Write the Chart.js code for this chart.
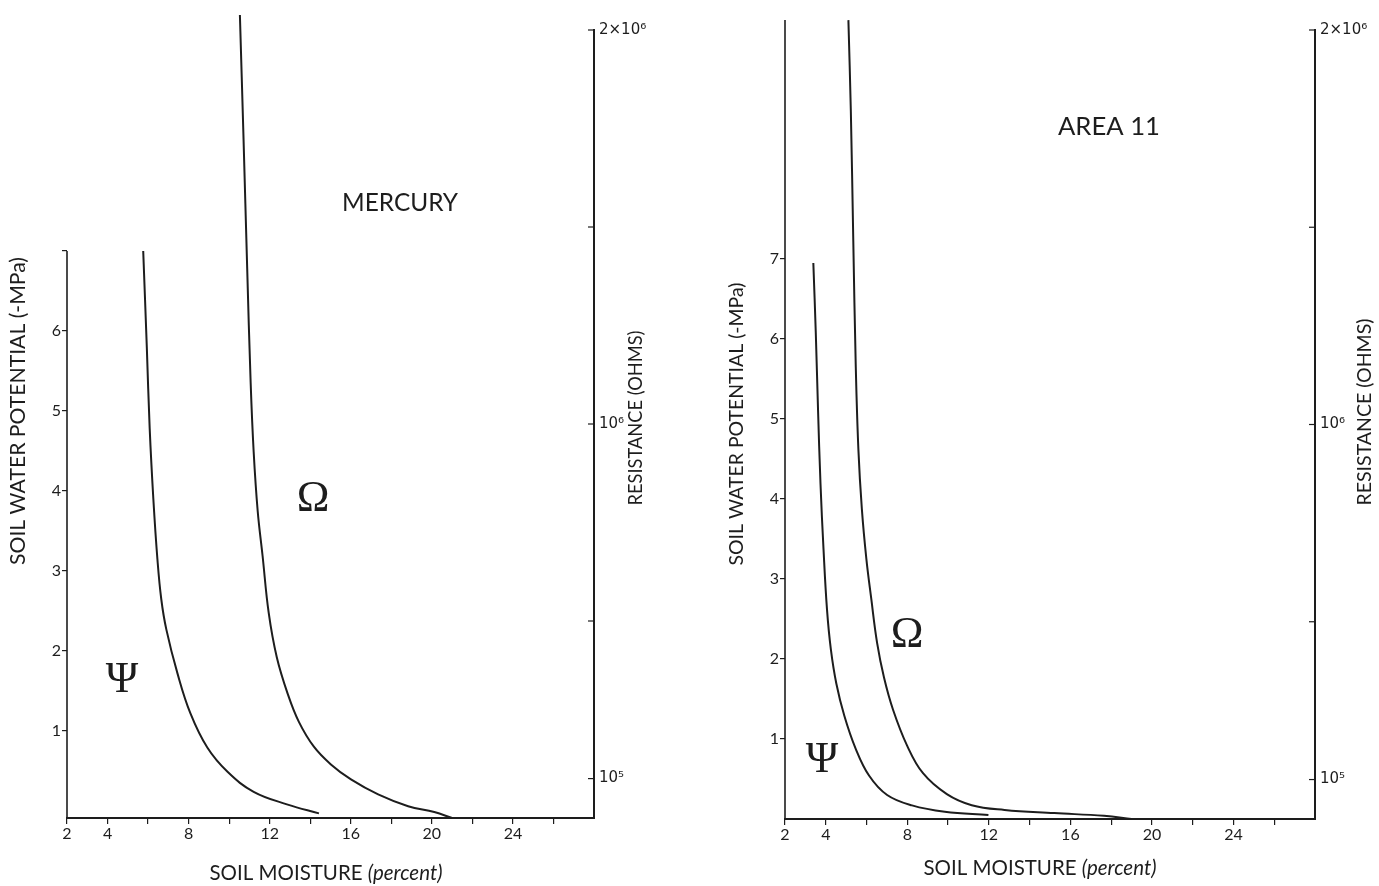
<!DOCTYPE html>
<html>
<head>
<meta charset="utf-8">
<script src="https://cdn.jsdelivr.net/npm/chart.js@4.4.1/dist/chart.umd.min.js"></script>
<style>
  body { margin: 0; background: #fff; }
  canvas { position: absolute; top: 0; }
  #mercury { left: 0; }
  #area11 { left: 690px; }
</style>
</head>
<body>
<canvas id="mercury" width="690" height="886"></canvas>
<canvas id="area11" width="689" height="886"></canvas>
<script>
// Soil moisture axis (percent)
const moistureTicks = [2, 4, 6, 8, 10, 12, 14, 16, 18, 20, 22, 24, 26];
const moistureLabelled = [2, 4, 8, 12, 16, 20, 24];

// Soil water potential axis (-MPa)
const potentialTicks = [1, 2, 3, 4, 5, 6, 7];
const mercuryPotentialLabels = ['1', '2', '3', '4', '5', '6', ''];
const areaPotentialLabels = ['1', '2', '3', '4', '5', '6', '7'];

// Resistance axis (ohms)
const resistanceTicks = [100000, 500000, 1000000, 1500000, 2000000];
const resistanceLabels = ['10⁵', '', '10⁶', '', '2×10⁶'];

// MERCURY: potential curve (Psi)
const mercuryPsiMoisture = [5.76, 5.94, 6.08, 6.26, 6.46, 6.65, 6.90, 7.45, 8.09, 8.93, 9.92, 11.21, 12.89, 14.43];
const mercuryPsi = [7.00, 5.78, 4.78, 3.90, 3.15, 2.65, 2.27, 1.72, 1.22, 0.79, 0.49, 0.24, 0.08, -0.03];
// MERCURY: resistance curve (Omega)
const mercuryOhmMoisture = [10.53, 10.71, 10.89, 11.06, 11.21, 11.41, 11.65, 11.95, 12.35, 12.89, 13.44, 14.18, 15.02, 16.01, 17.35, 18.83, 20.12, 21.0];
const mercuryOhm = [2038000, 1723000, 1395000, 1106000, 929000, 778000, 665000, 521000, 408000, 315000, 244000, 181000, 136000, 98000, 60000, 30000, 15000, 0];

// AREA 11: potential curve (Psi)
const areaPsiMoisture = [3.39, 3.51, 3.62, 3.74, 3.89, 4.06, 4.25, 4.52, 4.91, 5.45, 6.13, 7.01, 8.23, 9.84, 11.98];
const areaPsi = [6.95, 6.08, 5.12, 4.20, 3.37, 2.62, 2.12, 1.69, 1.29, 0.89, 0.54, 0.30, 0.17, 0.09, 0.05];
// AREA 11: resistance curve (Omega)
const areaOhmMoisture = [5.11, 5.23, 5.35, 5.47, 5.60, 5.77, 5.99, 6.23, 6.52, 6.86, 7.30, 7.99, 8.77, 9.94, 11.16, 12.77, 15.21, 17.65, 19.0];
const areaOhm = [2025000, 1794000, 1466000, 1151000, 937000, 786000, 660000, 559000, 446000, 358000, 277000, 186000, 116000, 63000, 35000, 23000, 15000, 8000, 0];

const ink = '#1d1d1d';
const family = 'Lato, "DejaVu Sans", sans-serif';

function toPoints(xs, ys) {
  return xs.map((x, i) => ({ x: x, y: ys[i] }));
}

// font size that makes the text span the wanted length
function fitSize(ctx, parts, len) {
  let w = 0;
  parts.forEach(p => {
    ctx.font = (p.italic ? 'italic ' : '') + '20px ' + family;
    w += ctx.measureText(p.text).width;
  });
  return 20 * len / w;
}

function drawParts(ctx, parts, cx, cy, len, angle) {
  const size = fitSize(ctx, parts, len);
  ctx.save();
  ctx.translate(cx, cy);
  ctx.rotate(angle || 0);
  ctx.textBaseline = 'middle';
  ctx.textAlign = 'left';
  ctx.fillStyle = ink;
  let x = -len / 2;
  parts.forEach(p => {
    ctx.font = (p.italic ? 'italic ' : '') + size.toFixed(2) + 'px ' + family;
    ctx.fillText(p.text, x, 0);
    x += ctx.measureText(p.text).width;
  });
  ctx.restore();
}

const panelText = {
  id: 'panelText',
  afterDraw(chart, args, o) {
    const { ctx, chartArea, scales } = chart;
    ctx.save();
    ctx.strokeStyle = ink;
    ctx.lineWidth = 1.6;
    // potential axis line
    const top = o.leftAxisTop != null ? scales.y.getPixelForValue(o.leftAxisTop) : chartArea.top - 10;
    ctx.beginPath();
    ctx.moveTo(chartArea.left, chartArea.bottom);
    ctx.lineTo(chartArea.left, top);
    ctx.stroke();
    // resistance ticks point inward
    ctx.lineWidth = 1.2;
    scales.y1.ticks.forEach(t => {
      const y = scales.y1.getPixelForValue(t.value);
      ctx.beginPath();
      ctx.moveTo(chartArea.right - 6, y);
      ctx.lineTo(chartArea.right, y);
      ctx.stroke();
    });
    ctx.restore();

    drawParts(ctx, [{ text: 'SOIL WATER POTENTIAL (-MPa)' }], o.yTitle[0], o.yTitle[1], o.yTitle[2], -Math.PI / 2);
    drawParts(ctx, [{ text: 'RESISTANCE (OHMS)' }], o.rTitle[0], o.rTitle[1], o.rTitle[2], -Math.PI / 2);
    drawParts(ctx, [{ text: 'SOIL MOISTURE ' }, { text: '(percent)', italic: true }], o.xTitle[0], o.xTitle[1], o.xTitle[2], 0);
    drawParts(ctx, [{ text: o.name }], o.nameAt[0], o.nameAt[1], o.nameAt[2], 0);

    ctx.save();
    ctx.fillStyle = ink;
    ctx.textAlign = 'center';
    ctx.textBaseline = 'middle';
    ctx.font = '44px "Liberation Serif", "DejaVu Serif", serif';
    ctx.fillText('Ψ', o.psiAt[0], o.psiAt[1]);
    ctx.fillText('Ω', o.omegaAt[0], o.omegaAt[1]);
    ctx.restore();
  }
};

function makePanel(id, cfg) {
  const lineStyle = {
    borderColor: ink,
    borderWidth: 2,
    pointRadius: 0,
    fill: false,
    clip: false,
    tension: 0.4
  };
  return new Chart(document.getElementById(id), {
    type: 'line',
    data: {
      datasets: [
        Object.assign({ label: 'Ψ', data: cfg.psi, yAxisID: 'y' }, lineStyle),
        Object.assign({ label: 'Ω', data: cfg.ohm, yAxisID: 'y1' }, lineStyle)
      ]
    },
    options: {
      responsive: false,
      animation: false,
      layout: { autoPadding: false, padding: { top: 30, left: 0, right: 0, bottom: 0 } },
      plugins: {
        legend: { display: false },
        tooltip: { enabled: false },
        panelText: cfg.text
      },
      scales: {
        x: {
          type: 'linear',
          min: 2,
          max: 28,
          afterBuildTicks: s => { s.ticks = moistureTicks.map(v => ({ value: v })); },
          afterFit: s => { s.height = cfg.xHeight; },
          grid: { drawOnChartArea: false, color: ink, tickLength: 6, lineWidth: 1.2 },
          border: { display: true, color: ink, width: 2 },
          ticks: {
            color: ink,
            padding: 0,
            maxRotation: 0,
            autoSkip: false,
            font: { family: family, size: 16 },
            callback: v => moistureLabelled.includes(v) ? String(v) : ''
          }
        },
        y: {
          type: 'linear',
          position: 'left',
          min: cfg.yMin,
          max: cfg.yMax,
          afterBuildTicks: s => { s.ticks = potentialTicks.map(v => ({ value: v })); },
          afterFit: s => { s.width = cfg.yWidth; },
          grid: { drawOnChartArea: false, color: ink, tickLength: 5, lineWidth: 1.2 },
          border: { display: false },
          ticks: {
            color: ink,
            padding: 1,
            autoSkip: false,
            font: { family: family, size: 16 },
            callback: v => cfg.potentialLabels[potentialTicks.indexOf(v)] || ''
          }
        },
        y1: {
          type: 'linear',
          position: 'right',
          min: 0,
          max: 2000000,
          afterBuildTicks: s => { s.ticks = resistanceTicks.map(v => ({ value: v })); },
          afterFit: s => { s.width = cfg.y1Width; },
          grid: { drawOnChartArea: false, drawTicks: false },
          border: { display: true, color: ink, width: 2 },
          ticks: {
            color: ink,
            padding: 5,
            autoSkip: false,
            font: { family: '"DejaVu Sans", sans-serif', size: 15 },
            callback: v => resistanceLabels[resistanceTicks.indexOf(v)] || ''
          }
        }
      }
    },
    plugins: [panelText]
  });
}

makePanel('mercury', {
  psi: toPoints(mercuryPsiMoisture, mercuryPsi),
  ohm: toPoints(mercuryOhmMoisture, mercuryOhm),
  potentialLabels: mercuryPotentialLabels,
  yMin: -0.0875,
  yMax: 9.7625,
  yWidth: 67,
  y1Width: 96,
  xHeight: 68,
  text: {
    leftAxisTop: 7,
    yTitle: [18, 411, 308],
    rTitle: [636, 418, 175],
    xTitle: [326, 873, 233],
    name: 'MERCURY',
    nameAt: [400, 203, 116],
    psiAt: [122, 680],
    omegaAt: [313, 499]
  }
});

makePanel('area11', {
  psi: toPoints(areaPsiMoisture, areaPsi),
  ohm: toPoints(areaOhmMoisture, areaOhm),
  potentialLabels: areaPotentialLabels,
  yMin: 0,
  yMax: 9.8625,
  yWidth: 95,
  y1Width: 64,
  xHeight: 67,
  text: {
    leftAxisTop: null,
    yTitle: [47, 424, 283],
    rTitle: [675, 412, 187],
    xTitle: [350, 868, 233],
    name: 'AREA 11',
    nameAt: [419, 127, 102],
    psiAt: [132, 760],
    omegaAt: [217, 635]
  }
});
</script>
</body>
</html>
